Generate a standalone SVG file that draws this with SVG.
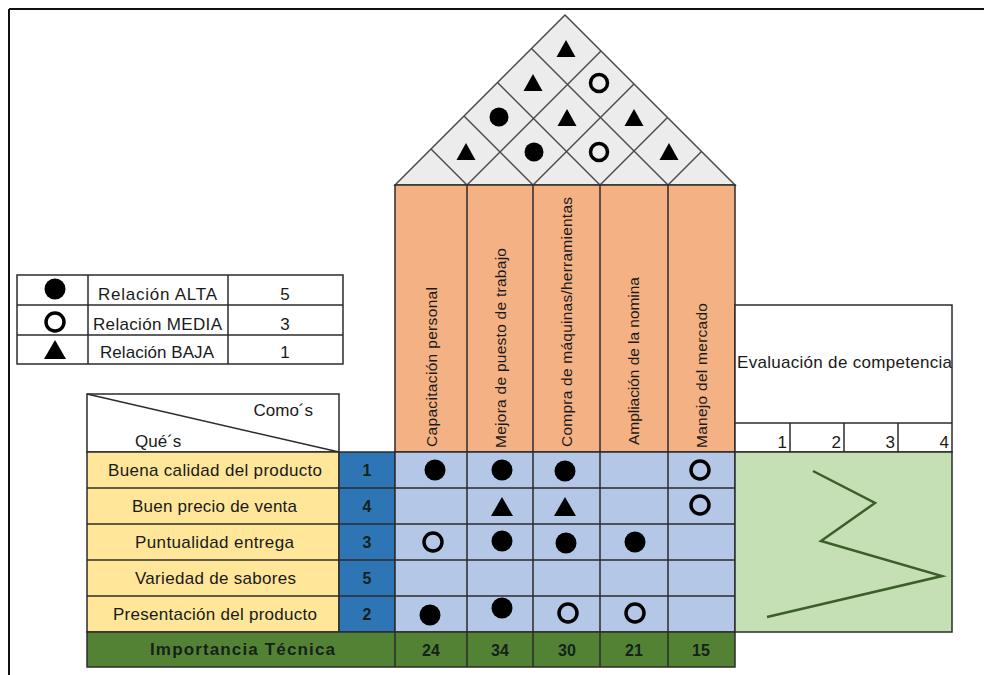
<svg xmlns="http://www.w3.org/2000/svg" width="984" height="675" viewBox="0 0 984 675">
  <style>
    text { font-family: "Liberation Sans", Arial, sans-serif; fill: #1a1a1a; }
    .lbl { font-size: 17px; text-anchor: middle; }
    .hdr { font-size: 15.5px; }
    .num { font-size: 16px; font-weight: bold; text-anchor: middle; fill: #14231a; }
    .grid { stroke: #2b2b2b; stroke-width: 1.5; }
    .roofline { stroke: #4a4a4a; stroke-width: 1.5; fill: none; }
    .dot { fill: #000; }
    .ring { fill: none; stroke: #000; stroke-width: 3.5; }
    .tri { fill: #000; }
  </style>
  <defs>
    <circle id="sym-alta" r="10.5" class="dot"/>
    <circle id="sym-media" r="9" class="ring"/>
    <polygon id="sym-baja" points="0,-10 11,9 -11,9" class="tri"/>
    <circle id="roof-alta" r="9.5" class="dot"/>
    <circle id="roof-media" r="8.5" class="ring"/>
    <polygon id="roof-baja" points="0,-9 9.5,8 -9.5,8" class="tri"/>
  </defs>

  <rect width="984" height="675" fill="#ffffff"/>

  <!-- outer frame -->
  <g id="frame">
    <line x1="9" y1="9" x2="984" y2="9" stroke="#111" stroke-width="2"/>
    <line x1="9" y1="9" x2="9" y2="675" stroke="#111" stroke-width="2"/>
  </g>

  <!-- roof: correlation matrix between the hows -->
  <g id="roof">
    <polygon points="395,185 565,15 735,185" fill="#ececec" stroke="#4a4a4a" stroke-width="1.5"/>
    <line class="roofline" x1="467" y1="185" x2="601" y2="51"/>
    <line class="roofline" x1="533" y1="185" x2="634" y2="84"/>
    <line class="roofline" x1="600" y1="185" x2="667.5" y2="117.5"/>
    <line class="roofline" x1="668" y1="185" x2="701.5" y2="151.5"/>
    <line class="roofline" x1="467" y1="185" x2="431" y2="149"/>
    <line class="roofline" x1="533" y1="185" x2="464" y2="116"/>
    <line class="roofline" x1="600" y1="185" x2="497.5" y2="82.5"/>
    <line class="roofline" x1="668" y1="185" x2="531.5" y2="48.5"/>
    <use href="#roof-baja" x="466" y="152"/>
    <use href="#roof-alta" x="534" y="152"/>
    <use href="#roof-media" x="599" y="152"/>
    <use href="#roof-baja" x="669" y="152"/>
    <use href="#roof-alta" x="499" y="117"/>
    <use href="#roof-baja" x="567" y="118"/>
    <use href="#roof-baja" x="634" y="118"/>
    <use href="#roof-baja" x="533" y="83"/>
    <use href="#roof-media" x="599" y="83"/>
    <use href="#roof-baja" x="566" y="49"/>
  </g>

  <!-- legend -->
  <g id="legend">
    <rect x="17" y="275" width="326" height="89" fill="#ffffff" class="grid"/>
    <line class="grid" x1="17" y1="305" x2="343" y2="305"/>
    <line class="grid" x1="17" y1="335" x2="343" y2="335"/>
    <line class="grid" x1="88" y1="275" x2="88" y2="364"/>
    <line class="grid" x1="228" y1="275" x2="228" y2="364"/>
    <use href="#sym-alta" x="55" y="289"/>
    <use href="#sym-media" x="55" y="322"/>
    <use href="#sym-baja" x="55" y="350"/>
    <text class="lbl" x="157.5" y="300" textLength="119">Relación ALTA</text>
    <text class="lbl" x="157.5" y="330" textLength="129">Relación MEDIA</text>
    <text class="lbl" x="157" y="358" textLength="114">Relación BAJA</text>
    <text class="lbl" x="285" y="300">5</text>
    <text class="lbl" x="285" y="330">3</text>
    <text class="lbl" x="285" y="358">1</text>
  </g>

  <!-- corner header -->
  <g id="corner">
    <rect x="87" y="394" width="252" height="58" fill="#ffffff" class="grid"/>
    <line class="grid" x1="87" y1="394" x2="339" y2="452"/>
    <text class="lbl" x="313" y="416" style="text-anchor:end">Como´s</text>
    <text class="lbl" x="135" y="447" style="text-anchor:start">Qué´s</text>
  </g>

  <!-- column headers (hows) -->
  <g id="hows">
    <rect x="395" y="185" width="340" height="267" fill="#f4b183" class="grid"/>
    <line class="grid" x1="467" y1="185" x2="467" y2="452"/>
    <line class="grid" x1="533" y1="185" x2="533" y2="452"/>
    <line class="grid" x1="600" y1="185" x2="600" y2="452"/>
    <line class="grid" x1="668" y1="185" x2="668" y2="452"/>
    <text class="hdr" transform="translate(437,447) rotate(-90)" textLength="160">Capacitación personal</text>
    <text class="hdr" transform="translate(506,448) rotate(-90)" textLength="200">Mejora de puesto de trabajo</text>
    <text class="hdr" transform="translate(572,447) rotate(-90)" textLength="250">Compra de máquinas/herramientas</text>
    <text class="hdr" transform="translate(639,445) rotate(-90)" textLength="168">Ampliación de la nomina</text>
    <text class="hdr" transform="translate(707,448) rotate(-90)" textLength="145">Manejo del mercado</text>
  </g>

  <!-- whats with their priority -->
  <g id="whats">
    <rect x="87" y="452" width="252" height="180" fill="#ffe699" class="grid"/>
    <line class="grid" x1="87" y1="488" x2="339" y2="488"/>
    <line class="grid" x1="87" y1="524" x2="339" y2="524"/>
    <line class="grid" x1="87" y1="560" x2="339" y2="560"/>
    <line class="grid" x1="87" y1="596" x2="339" y2="596"/>
    <text class="lbl" x="215" y="476" textLength="214">Buena calidad del producto</text>
    <text class="lbl" x="214.5" y="512" textLength="165">Buen precio de venta</text>
    <text class="lbl" x="214.5" y="548" textLength="159">Puntualidad entrega</text>
    <text class="lbl" x="215.5" y="584" textLength="161">Variedad de sabores</text>
    <text class="lbl" x="215" y="620" textLength="204">Presentación del producto</text>
  </g>

  <g id="priority">
    <rect x="339" y="452" width="56" height="180" fill="#2e75b6" class="grid"/>
    <line class="grid" x1="339" y1="488" x2="395" y2="488"/>
    <line class="grid" x1="339" y1="524" x2="395" y2="524"/>
    <line class="grid" x1="339" y1="560" x2="395" y2="560"/>
    <line class="grid" x1="339" y1="596" x2="395" y2="596"/>
    <text class="num" x="367" y="476">1</text>
    <text class="num" x="367" y="512">4</text>
    <text class="num" x="367" y="548">3</text>
    <text class="num" x="367" y="584">5</text>
    <text class="num" x="367" y="620">2</text>
  </g>

  <!-- relationship matrix -->
  <g id="matrix">
    <rect x="395" y="452" width="340" height="180" fill="#b4c7e7" class="grid"/>
    <line class="grid" x1="395" y1="488" x2="735" y2="488"/>
    <line class="grid" x1="395" y1="524" x2="735" y2="524"/>
    <line class="grid" x1="395" y1="560" x2="735" y2="560"/>
    <line class="grid" x1="395" y1="596" x2="735" y2="596"/>
    <line class="grid" x1="467" y1="452" x2="467" y2="632"/>
    <line class="grid" x1="533" y1="452" x2="533" y2="632"/>
    <line class="grid" x1="600" y1="452" x2="600" y2="632"/>
    <line class="grid" x1="668" y1="452" x2="668" y2="632"/>
    <use href="#sym-alta" x="435" y="470"/>
    <use href="#sym-alta" x="502" y="470"/>
    <use href="#sym-alta" x="565" y="471"/>
    <use href="#sym-media" x="700" y="470"/>
    <use href="#sym-baja" x="502" y="507"/>
    <use href="#sym-baja" x="565" y="507"/>
    <use href="#sym-media" x="700" y="505"/>
    <use href="#sym-media" x="433" y="542"/>
    <use href="#sym-alta" x="502" y="541"/>
    <use href="#sym-alta" x="566" y="543"/>
    <use href="#sym-alta" x="635" y="542"/>
    <use href="#sym-alta" x="430" y="615"/>
    <use href="#sym-alta" x="502" y="608"/>
    <use href="#sym-media" x="568" y="613"/>
    <use href="#sym-media" x="635" y="613"/>
  </g>

  <!-- technical importance row -->
  <g id="importance">
    <rect x="87" y="632" width="648" height="35" fill="#548235" class="grid"/>
    <line class="grid" x1="395" y1="632" x2="395" y2="667"/>
    <line class="grid" x1="467" y1="632" x2="467" y2="667"/>
    <line class="grid" x1="533" y1="632" x2="533" y2="667"/>
    <line class="grid" x1="600" y1="632" x2="600" y2="667"/>
    <line class="grid" x1="668" y1="632" x2="668" y2="667"/>
    <text class="num" x="242.5" y="655" style="font-size:17px" textLength="185">Importancia Técnica</text>
    <text class="num" x="431" y="656">24</text>
    <text class="num" x="500" y="656">34</text>
    <text class="num" x="567" y="656">30</text>
    <text class="num" x="634" y="656">21</text>
    <text class="num" x="701" y="656">15</text>
  </g>

  <!-- competitive evaluation -->
  <g id="competencia">
    <rect x="735" y="305" width="217" height="147" fill="#ffffff" class="grid"/>
    <line class="grid" x1="735" y1="423" x2="952" y2="423"/>
    <line class="grid" x1="790" y1="423" x2="790" y2="452"/>
    <line class="grid" x1="844" y1="423" x2="844" y2="452"/>
    <line class="grid" x1="898" y1="423" x2="898" y2="452"/>
    <text class="lbl" x="844.5" y="368" textLength="215">Evaluación de competencia</text>
    <text class="lbl" x="787" y="448" style="text-anchor:end">1</text>
    <text class="lbl" x="841" y="448" style="text-anchor:end">2</text>
    <text class="lbl" x="895" y="448" style="text-anchor:end">3</text>
    <text class="lbl" x="949" y="448" style="text-anchor:end">4</text>
    <rect x="735" y="452" width="217" height="180" fill="#c5e0b4" class="grid"/>
  </g>

  <g id="connectors">
    <polyline points="813,471 875,503 821,541 942,576 767,617" fill="none" stroke="#3b5e2b" stroke-width="2.5" stroke-linejoin="miter"/>
  </g>
</svg>
